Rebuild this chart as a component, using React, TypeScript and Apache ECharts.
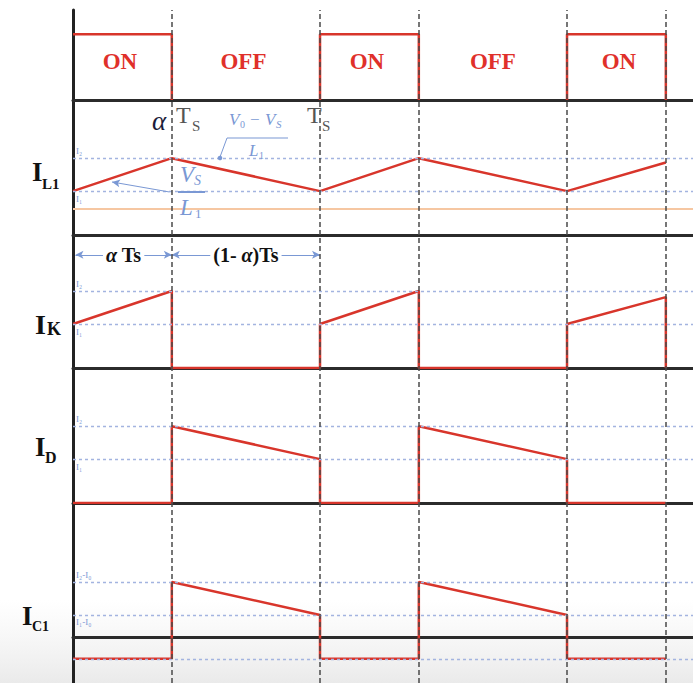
import { useEffect, useRef } from 'react';
import * as echarts from 'echarts';

// switching instants, in units of Ts (duty cycle alpha = 0.4)
const switchTimes = [0.4, 1, 1.4, 2, 2.4];
const tMax = 2.51;

// gate signal pulses (1 = ON)
const gatePulses = [
  [[0, 1], [0.4, 1], [0.4, 0]],
  [[1, 0], [1, 1], [1.4, 1], [1.4, 0]],
  [[2, 0], [2, 1], [2.4, 1], [2.4, 0]],
];
const gateLabels = [
  { name: 'ON', t: 0.19 },
  { name: 'OFF', t: 0.69 },
  { name: 'ON', t: 1.19 },
  { name: 'OFF', t: 1.7 },
  { name: 'ON', t: 2.21 },
];

// current levels
const I1 = 4;
const I2 = 7;
const I0 = 2;
const orangeLevel = 2.4;

// waveforms [t, value]
const iL1 = [[0, 4], [0.4, 7], [1, 4], [1.4, 7], [2, 4], [2.4, 6.6]];
const iK = [[0, 4], [0.4, 7], [0.4, 0], [1, 0], [1, 4], [1.4, 7], [1.4, 0], [2, 0], [2, 4], [2.4, 6.45], [2.4, 0]];
const iD = [[0, 0], [0.4, 0], [0.4, 7], [1, 4], [1, 0], [1.4, 0], [1.4, 7], [2, 4], [2, 0], [2.4, 0]];
const iC1 = [[0, -2], [0.4, -2], [0.4, 5], [1, 2], [1, -2], [1.4, -2], [1.4, 5], [2, 2], [2, -2], [2.4, -2]];

// panel y ranges
const yRanges = [
  [0, 1.37],
  [0, 12.3],
  [0, 12.1],
  [0, 12.3],
  [-4.2, 12.2],
  [0, 1],
];

const RED = '#d8352b';
const BLUE = '#7a98d4';
const DOT = '#a3b4e0';
const SERIF = 'Liberation Serif, DejaVu Serif, serif';

export default function App() {
  const ref = useRef<HTMLDivElement>(null);
  useEffect(() => {
    if (!ref.current) return;
    const chart = echarts.init(ref.current, undefined, { renderer: 'svg' });

    const gridsPx = [
      { top: 10, height: 90 },
      { top: 100, height: 135 },
      { top: 235, height: 133 },
      { top: 368, height: 135 },
      { top: 503, height: 180 },
      { top: 10, height: 673 },
    ];
    const grid = gridsPx.map((g) => ({ left: 73, width: 620, top: g.top, height: g.height }));
    const xAxis = gridsPx.map((_, i) => ({
      type: 'value',
      gridIndex: i,
      min: 0,
      max: tMax,
      axisLine: { show: i < 5, onZero: true, lineStyle: { color: '#2b2b2b', width: 3 } },
      axisTick: { show: false },
      axisLabel: { show: false },
      splitLine: { show: false },
    }));
    const yAxis = yRanges.map((r, i) => ({
      type: 'value',
      gridIndex: i,
      min: r[0],
      max: r[1],
      axisLine: { show: i === 5, onZero: false, lineStyle: { color: '#222', width: 3 } },
      axisTick: { show: false },
      axisLabel: { show: false },
      splitLine: { show: false },
    }));

    const dotted = { color: DOT, type: [3, 3], width: 1.3 };
    const lvl = (v: number, text: string, below: boolean) => ({
      yAxis: v,
      lineStyle: dotted,
      label: {
        show: text !== '',
        formatter: text,
        position: below ? 'insideStartBottom' : 'insideStartTop',
        color: BLUE,
        fontSize: 9,
        fontFamily: SERIF,
        distance: [3, 3],
      },
    });
    const redLine = { color: RED, width: 2.5 };
    const baseMl = { symbol: ['none', 'none'], silent: true, animation: false, label: { show: false } };
    const arrowLabel = (fmt: string) => ({
      show: true, position: 'middle', distance: [0, -10],
      formatter: fmt, color: '#111', fontSize: 20, fontWeight: 'bold',
      fontFamily: SERIF, backgroundColor: '#fff', padding: [0, 3],
      rich: { a: { fontStyle: 'italic', fontSize: 20, fontWeight: 'bold', fontFamily: SERIF, color: '#111' } },
    });

    const series: any[] = [];
    gatePulses.forEach((p) =>
      series.push({
        type: 'line', xAxisIndex: 0, yAxisIndex: 0, data: p, symbol: 'none', lineStyle: redLine, z: 3,
      })
    );
    series.push({
      type: 'scatter', xAxisIndex: 0, yAxisIndex: 0, symbolSize: 0,
      itemStyle: { color: RED, opacity: 1 },
      data: gateLabels.map((g) => ({ name: g.name, value: [g.t, 0.58] })),
      label: {
        show: true, position: 'inside', formatter: '{b}', color: '#e0302a', opacity: 1,
        textBorderWidth: 0, textBorderColor: 'transparent',
        fontSize: 23, fontWeight: 'bold', fontFamily: SERIF,
      },
      z: 4,
    });
    series.push({
      type: 'line', xAxisIndex: 1, yAxisIndex: 1, data: iL1, symbol: 'none', lineStyle: redLine, z: 3,
      markLine: {
        ...baseMl,
        symbolSize: [6, 8],
        data: [
          lvl(I2, 'I₂', false),
          lvl(I1, 'I₁', true),
          { yAxis: orangeLevel, lineStyle: { color: '#f6c7a2', type: 'solid', width: 2 }, label: { show: false } },
          [
            { coord: [0.39, 3.92], symbol: 'none', lineStyle: { color: BLUE, type: 'solid', width: 1 }, label: { show: false } },
            { coord: [0.158, 4.83], symbol: 'arrow' },
          ],
        ],
      },
    });
    series.push({
      type: 'line', xAxisIndex: 2, yAxisIndex: 2, data: iK, symbol: 'none', lineStyle: redLine, z: 3,
      markLine: {
        ...baseMl,
        symbolSize: [6, 8],
        data: [
          lvl(I2, 'I₂', false),
          lvl(I1, 'I₁', true),
          [
            {
              coord: [0.01, 10.3], symbol: 'arrow',
              lineStyle: { color: BLUE, type: 'solid', width: 1 },
              label: arrowLabel('{a|α} Ts'),
            },
            { coord: [0.4, 10.3], symbol: 'arrow' },
          ],
          [
            {
              coord: [0.4, 10.3], symbol: 'arrow',
              lineStyle: { color: BLUE, type: 'solid', width: 1 },
              label: arrowLabel('(1- {a|α})Ts'),
            },
            { coord: [1, 10.3], symbol: 'arrow' },
          ],
        ],
      },
    });
    series.push({
      type: 'line', xAxisIndex: 3, yAxisIndex: 3, data: iD, symbol: 'none', lineStyle: redLine, z: 3,
      markLine: { ...baseMl, data: [lvl(I2, 'I₂', false), lvl(I1, 'I₁', true)] },
    });
    series.push({
      type: 'line', xAxisIndex: 4, yAxisIndex: 4, data: iC1, symbol: 'none', lineStyle: redLine, z: 3,
      markLine: {
        ...baseMl,
        data: [lvl(I2 - I0, 'I₂-I₀', false), lvl(I1 - I0, 'I₁-I₀', true), lvl(-I0, '', false)],
      },
    });
    series.push({
      type: 'line', xAxisIndex: 5, yAxisIndex: 5, data: [[0, -1]], symbol: 'none',
      lineStyle: { opacity: 0 }, z: 2,
      markLine: {
        ...baseMl,
        lineStyle: { color: '#4a4a4a', type: [5, 3], width: 1.5 },
        data: switchTimes.map((t) => ({ xAxis: t })),
      },
    });

    const txt = (text: string, x: number, y: number, fontSize: number, extra: any = {}) => ({
      type: 'text',
      x,
      y,
      z: 10,
      style: {
        text,
        fontSize,
        fontFamily: SERIF,
        fill: '#111',
        align: 'left',
        verticalAlign: 'middle',
        ...extra,
      },
    });
    const bold = { fontWeight: 'bold', fill: '#111' };
    const it = { fontStyle: 'italic', fill: BLUE };

    const graphic: any[] = [
      {
        type: 'rect', z: -10, silent: true,
        shape: { x: 0, y: 600, width: 693, height: 83 },
        style: {
          fill: {
            type: 'linear', x: 0, y: 0, x2: 0, y2: 1,
            colorStops: [
              { offset: 0, color: 'rgba(230,230,230,0)' },
              { offset: 1, color: 'rgba(220,220,220,0.6)' },
            ],
          },
        },
      },
      // panel labels
      txt('I', 32, 172, 27, bold),
      txt('L1', 42, 184, 15, bold),
      txt('I', 35, 324, 28, bold),
      txt('K', 47, 329, 18, bold),
      txt('I', 35, 447, 27, bold),
      txt('D', 45, 457, 16, bold),
      txt('I', 22, 616, 27, bold),
      txt('C1', 32, 626, 14, bold),
      // alpha Ts, Ts
      txt('α', 152, 121, 27, { fontStyle: 'italic', fill: '#1c1c3a' }),
      txt('T', 176, 115, 24, { fill: '#555' }),
      txt('S', 192, 126, 15, { fill: '#555' }),
      txt('T', 307, 115, 24, { fill: '#555' }),
      txt('S', 322, 126, 15, { fill: '#555' }),
      // (V0 - VS) / L1
      txt('V', 229, 119, 17, it),
      txt('0', 240, 124, 10, { fill: BLUE }),
      txt('−', 250, 119, 17, { fill: BLUE }),
      txt('V', 265, 119, 17, it),
      txt('S', 276, 124, 11, it),
      { type: 'line', z: 10, shape: { x1: 227, y1: 138, x2: 288, y2: 138 }, style: { stroke: BLUE, lineWidth: 1.2 } },
      txt('L', 249, 150, 17, it),
      txt('1', 259, 155, 10, { fill: BLUE }),
      { type: 'line', z: 10, shape: { x1: 227, y1: 138, x2: 220, y2: 157 }, style: { stroke: BLUE, lineWidth: 1 } },
      { type: 'circle', z: 10, shape: { cx: 220, cy: 158, r: 2.3 }, style: { fill: BLUE } },
      // VS / L1
      txt('V', 180, 174, 23, it),
      txt('S', 194, 180, 14, it),
      { type: 'line', z: 10, shape: { x1: 178, y1: 192, x2: 205, y2: 192 }, style: { stroke: BLUE, lineWidth: 2 } },
      txt('L', 180, 207, 23, it),
      txt('1', 195, 213, 13, { fill: BLUE }),
    ];

    chart.setOption({
      animation: false,
      backgroundColor: '#fff',
      grid,
      xAxis,
      yAxis,
      series,
      graphic,
    });
    return () => chart.dispose();
  }, []);
  return <div ref={ref} style={{ position: 'absolute', left: 0, top: 0, width: 693, height: 683 }} />;
}
